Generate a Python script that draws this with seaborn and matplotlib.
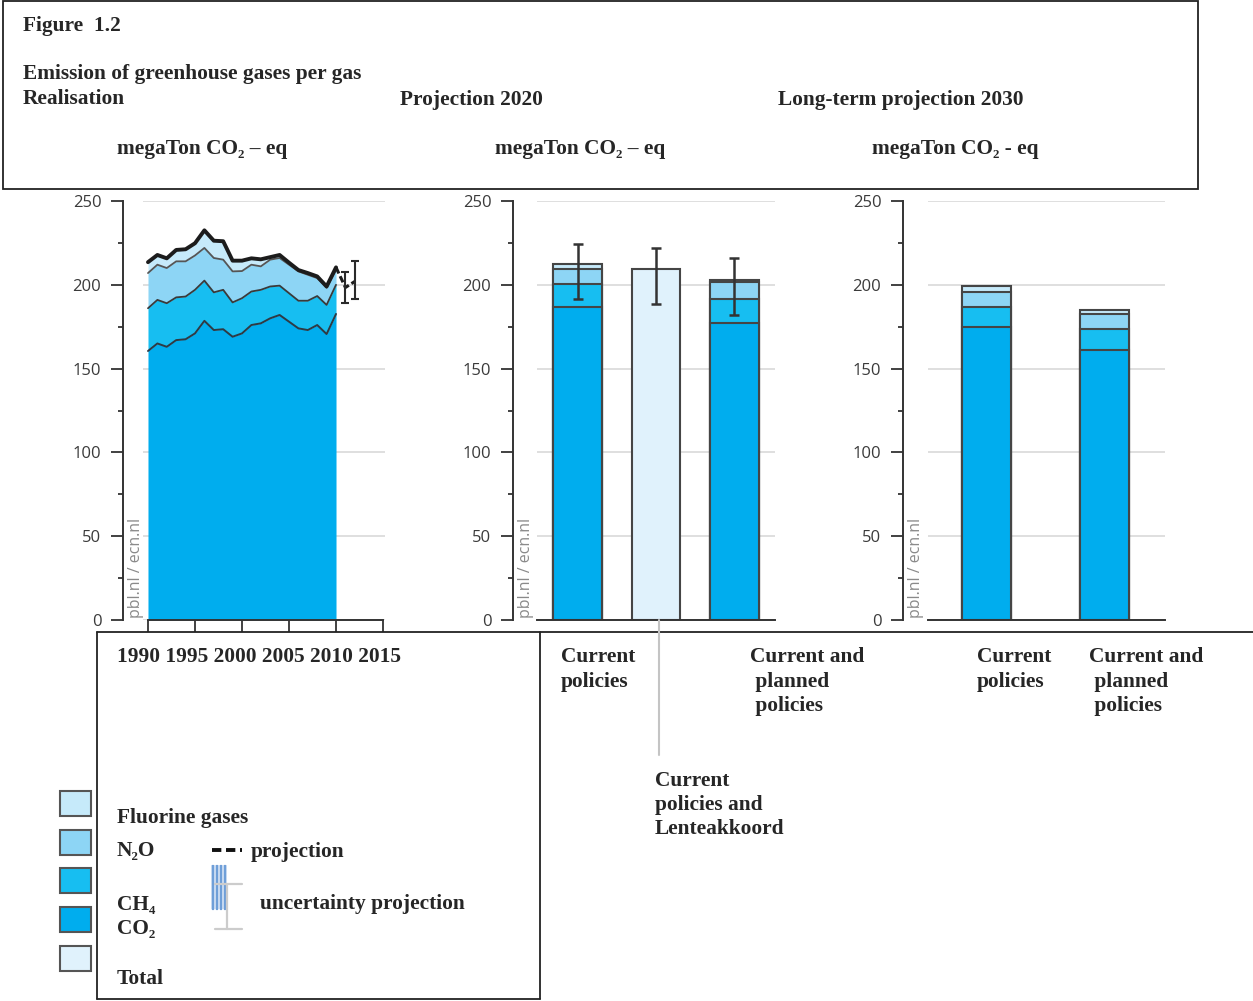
import numpy as np
import pandas as pd
import matplotlib
matplotlib.use("Agg")
import matplotlib.pyplot as plt
from matplotlib.patches import Rectangle
from matplotlib.lines import Line2D
import seaborn as sns

# ---------------- data (megaton CO2-equivalent) ----------------
years = list(range(1990, 2011))
co2 = [160.5, 165.0, 163.0, 167.0, 167.5, 171.0, 178.5, 173.0, 173.5, 169.0, 171.0,
       176.0, 177.0, 180.0, 182.0, 178.0, 174.0, 173.0, 176.0, 170.6, 182.6]
ch4 = [25.5, 26.0, 26.0, 25.5, 25.5, 26.0, 24.0, 22.5, 23.5, 20.5, 21.0,
       20.0, 20.0, 19.0, 17.5, 17.0, 16.5, 17.5, 17.3, 17.4, 17.4]
n2o = [21.0, 21.0, 21.0, 21.5, 21.0, 20.5, 19.5, 20.5, 18.0, 18.5, 16.2,
       16.0, 14.0, 16.0, 16.5, 17.0, 17.5, 15.5, 10.7, 10.2, 8.8]
fgas = [6.5, 5.8, 5.8, 6.8, 7.2, 7.3, 10.5, 10.3, 11.0, 6.4, 6.2,
        3.8, 4.2, 1.5, 1.8, 1.2, 0.8, 1.0, 1.0, 0.8, 1.6]

proj_years = [2010, 2011, 2012]
proj_total = [210.4, 198.4, 202.0]
unc_years = [2011, 2012]
unc_low = [189.3, 191.3]
unc_high = [207.4, 214.2]

cats_2020 = ["Current policies", "Current policies and Lenteakkoord",
             "Current and planned policies"]
co2_2020 = [186.8, np.nan, 177.4]
ch4_2020 = [13.5, np.nan, 13.9]
n2o_2020 = [9.2, np.nan, 10.6]
fgas_2020 = [3.0, np.nan, 1.1]
total_2020 = [np.nan, 209.6, np.nan]
low_2020 = [191.3, 188.7, 182.0]
high_2020 = [224.5, 221.8, 216.2]

cats_2030 = ["Current policies", "Current and planned policies"]
co2_2030 = [174.6, 161.3]
ch4_2030 = [12.0, 12.1]
n2o_2030 = [9.3, 9.4]
fgas_2030 = [3.2, 2.0]

year_labels = ["1990", "1995", "2000", "2005", "2010", "2015"]
labels_2020 = ["Current\npolicies", "Current\npolicies and\nLenteakkoord",
               "Current and\n planned\n policies"]
labels_2030 = ["Current\npolicies", "Current and\n planned\n policies"]
legend_labels = ["Fluorine gases", "N\u2082O", "CH\u2084", "CO\u2082", "Total"]

# ---------------- style ----------------
C_CO2 = "#00ADEE"
C_CH4 = "#17BEF1"
C_N2O = "#8DD5F5"
C_F = "#C6EAFA"
C_TOT = "#E0F2FC"
EDGE = "#454545"
AXC = "#333333"

sns.set_style("white")
plt.rcParams["font.family"] = ["Liberation Serif", "DejaVu Serif"]
plt.rcParams["font.weight"] = "bold"

W, H = 1253, 1001
fig = plt.figure(figsize=(W / 100, H / 100), dpi=100)


def fx(x):
    return x / W


def fy(y):
    return 1 - y / H


def px_axes(x0, x1, y0, y1):
    return fig.add_axes([fx(x0), fy(y1), (x1 - x0) / W, (y1 - y0) / H])


def style_value_axis(ax, outward_px, credit_x):
    ax.set_ylim(0, 250)
    ax.set_yticks(range(0, 251, 50))
    ax.set_yticks(range(25, 250, 50), minor=True)
    ax.yaxis.grid(True, color="#d9d9d9", lw=1.2)
    ax.xaxis.grid(False)
    ax.set_axisbelow(True)
    for s in ("top", "right"):
        ax.spines[s].set_visible(False)
    ax.spines["left"].set_position(("outward", outward_px * 0.72))
    ax.spines["left"].set_bounds(0, 250)
    ax.spines["left"].set_color(AXC)
    ax.spines["left"].set_linewidth(1.4)
    ax.spines["bottom"].set_color(AXC)
    ax.spines["bottom"].set_linewidth(1.4)
    ax.tick_params(axis="y", which="major", direction="out", length=8.6, width=1.3,
                   color=AXC, pad=7, labelsize=12, labelcolor="#3a3a3a", left=True)
    ax.tick_params(axis="y", which="minor", direction="out", length=3.6, width=1.3,
                   color=AXC, left=True)
    for lab in ax.get_yticklabels():
        lab.set_fontfamily("Open Sans")
        lab.set_fontweight("normal")
    ax.set_xlabel("")
    ax.set_ylabel("")
    # source credit, set vertically in the gap beside the value axis
    fig.text(fx(credit_x), fy(618), "pbl.nl / ecn.nl", rotation=90,
             ha="center", va="bottom", color="#8a8a8a", fontsize=11.5,
             fontfamily="Open Sans", fontweight="normal")


# ---------------- realisation 1990-2010 ----------------
ax1 = px_axes(143, 385, 201, 620)
yr = np.array(years)
t_co2 = np.array(co2)
t_ch4 = t_co2 + np.array(ch4)
t_n2o = t_ch4 + np.array(n2o)
t_tot = t_n2o + np.array(fgas)

ax1.fill_between(yr, t_n2o, t_tot, color=C_F, lw=0, zorder=2)
ax1.fill_between(yr, t_ch4, t_n2o, color=C_N2O, lw=0, zorder=2)
ax1.fill_between(yr, t_co2, t_ch4, color=C_CH4, lw=0, zorder=2)
ax1.fill_between(yr, 0, t_co2, color=C_CO2, lw=0, zorder=2)
sns.lineplot(x=yr, y=t_co2, color="#2e3a44", lw=1.4, ax=ax1, zorder=3)
sns.lineplot(x=yr, y=t_ch4, color="#3a3a3a", lw=1.3, ax=ax1, zorder=3)
sns.lineplot(x=yr, y=t_n2o, color="#555555", lw=1.3, ax=ax1, zorder=3)
sns.lineplot(x=yr, y=t_tot, color="#1c1c1c", lw=2.8, ax=ax1, zorder=4)
sns.lineplot(x=proj_years, y=proj_total, color="#1c1c1c", lw=2.2, ax=ax1, zorder=4,
             linestyle=(0, (2.2, 1.0)))
mid = np.array(proj_total[1:])
ax1.errorbar(unc_years, mid, yerr=[mid - np.array(unc_low), np.array(unc_high) - mid],
             fmt="none", ecolor="#2a2a2a", elinewidth=1.5, capsize=3, capthick=1.5, zorder=5)

ax1.set_xlim(1989.47, 2015.21)
style_value_axis(ax1, 20, 136)
ax1.spines["bottom"].set_bounds(1990, 2015)
ax1.set_xticks([int(y) for y in year_labels])
ax1.tick_params(axis="x", direction="out", length=8.6, width=1.3, color=AXC,
                labelbottom=False, bottom=True)


# ---------------- stacked bar helper (seaborn layered bars) ----------------
def layered_bars(ax, cats, layers, width):
    for vals, col in layers:
        d = pd.DataFrame({"cat": cats, "val": vals})
        sns.barplot(data=d, x="cat", y="val", order=cats, color=col, width=width,
                    edgecolor=EDGE, linewidth=1.5, errorbar=None, saturation=1,
                    ax=ax, zorder=2)


# ---------------- projection 2020 ----------------
ax2 = px_axes(537, 775, 201, 620)
c2 = np.nan_to_num(co2_2020)
h2 = np.nan_to_num(ch4_2020)
n2 = np.nan_to_num(n2o_2020)
f2 = np.nan_to_num(fgas_2020)
mask2 = ~np.isnan(np.array(co2_2020))
top_f = np.where(mask2, c2 + h2 + n2 + f2, np.nan)
top_n = np.where(mask2, c2 + h2 + n2, np.nan)
top_h = np.where(mask2, c2 + h2, np.nan)
top_c = np.where(mask2, c2, np.nan)
layered_bars(ax2, cats_2020, [(top_f, C_F), (total_2020, C_TOT), (top_n, C_N2O),
                              (top_h, C_CH4), (top_c, C_CO2)], 0.624)
tot2 = np.where(mask2, top_f, np.array(total_2020))
ax2.errorbar(range(len(cats_2020)), tot2,
             yerr=[tot2 - np.array(low_2020), np.array(high_2020) - tot2],
             fmt="none", ecolor="#333333", elinewidth=1.8, capsize=3.6, capthick=1.8, zorder=5)
ax2.set_xlim(-0.516, 2.516)
style_value_axis(ax2, 24, 526)
ax2.set_xticks([])

# ---------------- long-term projection 2030 ----------------
ax3 = px_axes(928, 1165, 201, 620)
t3c = np.array(co2_2030)
t3h = t3c + np.array(ch4_2030)
t3n = t3h + np.array(n2o_2030)
t3f = t3n + np.array(fgas_2030)
layered_bars(ax3, cats_2030, [(t3f, C_F), (t3n, C_N2O), (t3h, C_CH4), (t3c, C_CO2)], 0.415)
ax3.set_xlim(-0.496, 1.513)
style_value_axis(ax3, 25, 916)
ax3.set_xticks([])

# ---------------- frames and text ----------------
fig.add_artist(Rectangle((fx(3), fy(189)), 1195 / W, 188 / H, fill=False,
                         ec="#222222", lw=1.3, transform=fig.transFigure))
for xs, ys in [((97, 97), (632, 999)), ((97, 1253), (632, 632)),
               ((540, 540), (632, 999)), ((97, 540), (999, 999))]:
    fig.add_artist(Line2D([fx(xs[0]), fx(xs[1])], [fy(ys[0]), fy(ys[1])],
                          color="#222222", lw=1.3))
# leader line to the Lenteakkoord label
fig.add_artist(Line2D([fx(659), fx(659)], [fy(620), fy(755)], color="#c4c4c4", lw=1.5))

FS = 15.4


def txt(x, y, s, **kw):
    fig.text(fx(x), fy(y + 6.5), s, ha="left", va="baseline", fontsize=FS,
             fontweight="bold", **kw)


def multiline(x, y, s, dy=24.5):
    for i, line in enumerate(s.split("\n")):
        txt(x, y + i * dy, line)


txt(23, 24, "Figure  1.2")
txt(23, 73, "Emission of greenhouse gases per gas")
txt(23, 98, "Realisation")
txt(400, 98, "Projection 2020")
txt(778, 98, "Long-term projection 2030")
txt(117, 148, "megaTon CO\u2082 \u2013 eq")
txt(495, 148, "megaTon CO\u2082 \u2013 eq")
txt(872, 148, "megaTon CO\u2082 - eq")

txt(117, 656, " ".join(year_labels))
multiline(561, 656, labels_2020[0])
multiline(655, 779, labels_2020[1])
multiline(750, 656, labels_2020[2])
multiline(977, 656, labels_2030[0])
multiline(1089, 656, labels_2030[1])

# legend
sq_colors = [C_F, C_N2O, C_CH4, C_CO2, C_TOT]
sq_top = [791, 830, 868, 907, 946]
for col, yt in zip(sq_colors, sq_top):
    fig.add_artist(Rectangle((fx(60), fy(yt + 25)), 31 / W, 25 / H, fc=col, ec="#555555",
                             lw=1.5, transform=fig.transFigure))
lab_y = [816, 850, 903, 928, 978]
for lab, yy in zip(legend_labels, lab_y):
    txt(117, yy, lab)

fig.add_artist(Line2D([fx(212), fx(242)], [fy(850), fy(850)], color="#111111", lw=2.8,
                      linestyle=(0, (2.4, 1.2))))
txt(251, 850, "projection")

fig.add_artist(Rectangle((fx(211), fy(909)), 16 / W, 44 / H, fc="#dbe7f6", lw=0,
                         transform=fig.transFigure))
for xv in np.arange(211.5, 227, 2.0):
    fig.add_artist(Line2D([fx(xv), fx(xv)], [fy(865), fy(909)], color="#6f9fd8", lw=1.0))
for seg in [((215, 242), (884, 884)), ((227, 227), (884, 929)), ((215, 242), (929, 929))]:
    fig.add_artist(Line2D([fx(seg[0][0]), fx(seg[0][1])], [fy(seg[1][0]), fy(seg[1][1])],
                          color="#cccccc", lw=1.6))
txt(260, 903, "uncertainty projection")

fig.savefig("out.png", dpi=100)
